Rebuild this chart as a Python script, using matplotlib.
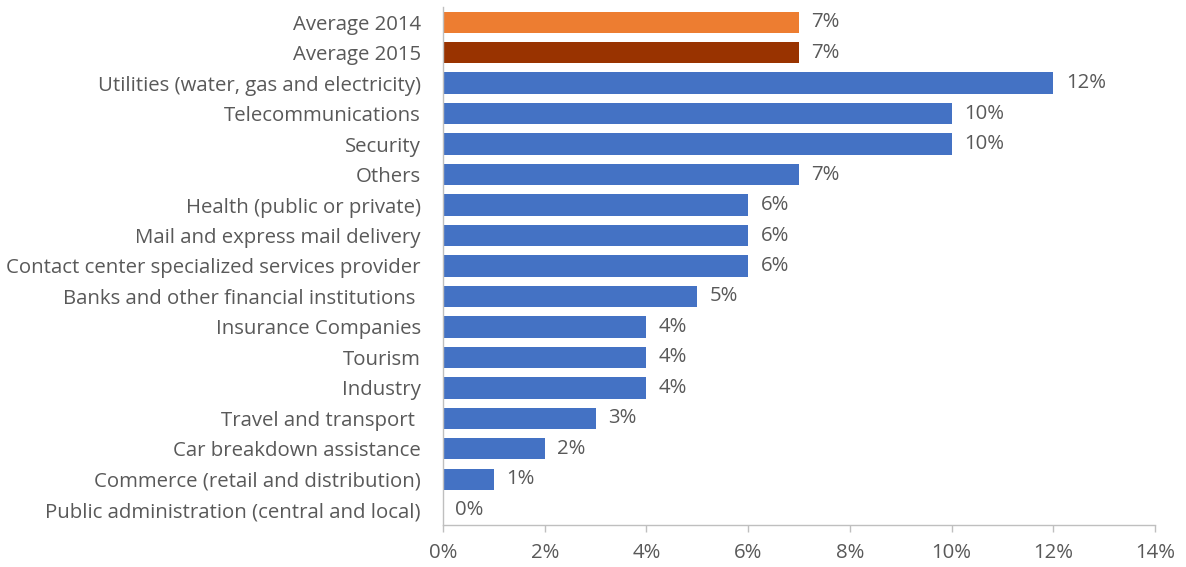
import matplotlib.pyplot as plt
from matplotlib.ticker import FuncFormatter

# sectors, top to bottom
labels = [
    "Average 2014",
    "Average 2015",
    "Utilities (water, gas and electricity)",
    "Telecommunications",
    "Security",
    "Others",
    "Health (public or private)",
    "Mail and express mail delivery",
    "Contact center specialized services provider",
    "Banks and other financial institutions ",
    "Insurance Companies",
    "Tourism",
    "Industry",
    "Travel and transport ",
    "Car breakdown assistance",
    "Commerce (retail and distribution)",
    "Public administration (central and local)",
]
values = [7, 7, 12, 10, 10, 7, 6, 6, 6, 5, 4, 4, 4, 3, 2, 1, 0]
colors = ["#ED7D31", "#993300"] + ["#4472C4"] * 15
xticks = [0, 2, 4, 6, 8, 10, 12, 14]

plt.rcParams['font.family'] = ['Open Sans', 'DejaVu Sans']
text_col = "#595959"
axis_col = "#BFBFBF"
fs = 14.7

fig = plt.figure(figsize=(11.86, 5.67), dpi=100)
ax = fig.add_axes([0.3735, 0.0741, 0.6004, 0.9136])

pos = list(range(len(labels)))
bars = ax.barh(pos, values, height=0.7, color=colors)
ax.bar_label(bars, labels=[f"{v}%" for v in values], padding=9,
             fontsize=fs, color=text_col)

ax.set_ylim(len(labels) - 0.5, -0.5)
ax.set_xlim(0, 14)
ax.set_yticks(pos)
ax.set_yticklabels(labels)
ax.set_xticks(xticks)
ax.xaxis.set_major_formatter(FuncFormatter(lambda v, p: f"{v:.0f}%"))

ax.tick_params(axis='y', length=0, pad=16, labelsize=fs, labelcolor=text_col)
ax.tick_params(axis='x', length=5, width=1, color=axis_col, pad=8,
               labelsize=fs, labelcolor=text_col)

for s in ["top", "right"]:
    ax.spines[s].set_visible(False)
for s in ["left", "bottom"]:
    ax.spines[s].set_color(axis_col)
    ax.spines[s].set_linewidth(1)

fig.savefig("out.png", dpi=100)
